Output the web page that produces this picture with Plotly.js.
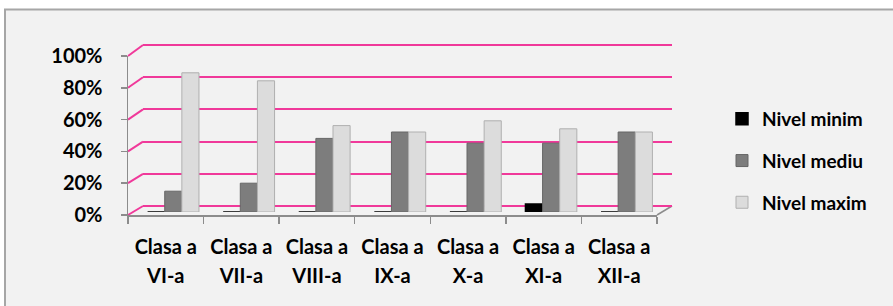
<!DOCTYPE html>
<html>
<head>
<meta charset="utf-8">
<script src="https://cdn.plot.ly/plotly-3.0.1.min.js"></script>
<style>html,body{margin:0;padding:0;background:#fff;}#chart{width:893px;height:306px;}</style>
</head>
<body>
<div id="chart"></div>
<script>
// ---- data ----
const classes = ["VI-a", "VII-a", "VIII-a", "IX-a", "X-a", "XI-a", "XII-a"];
const classPrefix = "Clasa a";
const nivelMinim = [0.00, 0.00, 0.00, 0.00, 0.00, 0.05, 0.00];
const nivelMediu = [0.13, 0.18, 0.46, 0.50, 0.43, 0.43, 0.50];
const nivelMaxim = [0.87, 0.82, 0.54, 0.50, 0.57, 0.52, 0.50];
const seriesNames = ["Nivel minim", "Nivel mediu", "Nivel maxim"];
const yTicks = [0, 0.2, 0.4, 0.6, 0.8, 1.0];

// ---- geometry helpers (pixel -> paper) ----
const W = 893, H = 306;
const px = v => v / W;
const py = v => 1 - v / H;
const PINK = "#f0399a";
const GRAY = "#8c8c8c";
const FONT = {family: "Lato, 'Open Sans', sans-serif", size: 20, color: "#000", weight: "bold"};

// front plane: 0 at 215, 1 at 56 ; back plane: 0 at 206, 1 at 45
const front = {x0: 128, x1: 657, yb: 215, yt: 56};
const back = {x0: 143, x1: 672, yb: 206, yt: 45};
const mid = {x0: 135.5, x1: 664.5, yb: 212, yt: 52};
const pad = 0.01;
const frontY = v => front.yb - v * (front.yb - front.yt);
const backY = v => back.yb - v * (back.yb - back.yt);
const backPPU = back.yb - back.yt;

const traces = [
  {type: "bar", name: seriesNames[0], legendgroup: "g0", x: classes, y: nivelMinim, xaxis: "x2", yaxis: "y2",
   marker: {color: "#000000", line: {color: "#000000", width: 1.5}}, hoverinfo: "skip"},
  {type: "bar", name: seriesNames[1], legendgroup: "g1", x: classes, y: nivelMediu, xaxis: "x2", yaxis: "y2",
   marker: {color: "#7d7d7d", line: {color: "#666666", width: 1}}, hoverinfo: "skip"},
  {type: "bar", name: seriesNames[2], legendgroup: "g2", x: classes, y: nivelMaxim, xaxis: "x2", yaxis: "y2",
   marker: {color: "#dcdcdc", line: {color: "#b0b0b0", width: 1}}, hoverinfo: "skip"},
  // helpers registering categories on the back wall and label axes
  {type: "scatter", mode: "none", x: classes, y: nivelMinim, xaxis: "x", yaxis: "y", showlegend: false, hoverinfo: "skip"},
  {type: "scatter", mode: "none", x: classes, y: nivelMinim, xaxis: "x3", yaxis: "y3", showlegend: false, hoverinfo: "skip"},
  {type: "scatter", mode: "none", x: classes, y: nivelMinim, xaxis: "x4", yaxis: "y3", showlegend: false, hoverinfo: "skip"}
];

const shapes = [
  // outer frame
  {type: "rect", xref: "paper", yref: "paper", x0: px(5), x1: 1.02, y0: -0.02, y1: py(9.5),
   fillcolor: "#f2f2f2", line: {color: "#a6a6a6", width: 2}, layer: "below"},
  // right floor edge
  {type: "line", xref: "paper", yref: "paper", x0: px(front.x1), y0: py(front.yb), x1: px(back.x1), y1: py(back.yb),
   line: {color: GRAY, width: 1.5}, layer: "below"}
];
yTicks.forEach(v => {
  shapes.push({type: "line", xref: "paper", yref: "paper",
    x0: px(front.x0), y0: py(frontY(v)), x1: px(back.x0), y1: py(backY(v)),
    line: {color: PINK, width: 2}, layer: "below"});
});

const layout = {
  width: W, height: H, autosize: false,
  margin: {l: 0, r: 0, t: 0, b: 0, pad: 0},
  paper_bgcolor: "#ffffff",
  plot_bgcolor: "rgba(0,0,0,0)",
  barmode: "group", bargap: 0.32, bargroupgap: 0,
  showlegend: true,
  legend: {x: px(722), y: py(100), xanchor: "left", yanchor: "top",
           font: {family: FONT.family, size: 19, color: "#000", weight: "bold"},
           bgcolor: "rgba(0,0,0,0)", tracegroupgap: 14, traceorder: "grouped"},
  // back wall gridlines
  xaxis: {domain: [px(back.x0), px(back.x1)], type: "category", range: [-0.5, 6.5], showgrid: false,
          showticklabels: false, zeroline: false, showline: false, ticks: "", anchor: "y", fixedrange: true},
  yaxis: {domain: [py(back.yb + pad * backPPU), py(back.yt - pad * backPPU)], range: [-pad, 1 + pad],
          tickmode: "array", tickvals: yTicks, showgrid: true, gridcolor: PINK, gridwidth: 2,
          showticklabels: false, zeroline: false, showline: false, ticks: "", anchor: "x", fixedrange: true},
  // bars
  xaxis2: {domain: [px(mid.x0), px(mid.x1)], type: "category", range: [-0.5, 6.5], showgrid: false,
           showticklabels: false, zeroline: false, showline: false, ticks: "", anchor: "y2", fixedrange: true},
  yaxis2: {domain: [py(mid.yb), py(mid.yt)], range: [0, 1], showgrid: false, showticklabels: false,
           zeroline: false, showline: false, ticks: "", anchor: "x2", fixedrange: true},
  // front axes with labels
  xaxis3: {domain: [px(front.x0), px(front.x1)], type: "category", range: [-0.5, 6.5],
           tickmode: "array", tickvals: classes, ticktext: classes.map(() => classPrefix),
           tickson: "boundaries", ticks: "outside", ticklen: 7, tickcolor: GRAY, tickwidth: 1.5,
           showline: true, linecolor: GRAY, linewidth: 1.5, showgrid: false, zeroline: false,
           tickfont: FONT, ticklabelstandoff: 13, anchor: "y3", fixedrange: true},
  xaxis4: {overlaying: "x3", type: "category", range: [-0.5, 6.5], side: "bottom",
           tickmode: "array", tickvals: classes, ticktext: classes,
           ticks: "", showline: false, showgrid: false, zeroline: false,
           tickfont: FONT, ticklabelstandoff: 47, anchor: "y3", fixedrange: true},
  yaxis3: {domain: [py(front.yb), py(front.yt)], range: [0, 1], tickmode: "array", tickvals: yTicks,
           tickformat: ".0%", ticks: "outside", ticklen: 6, tickcolor: GRAY, tickwidth: 1.5,
           showline: true, linecolor: GRAY, linewidth: 1.5, showgrid: false, zeroline: false,
           tickfont: FONT, ticklabelstandoff: 14, anchor: "x3", fixedrange: true},
  shapes: shapes
};

Plotly.newPlot("chart", traces, layout, {displayModeBar: false, staticPlot: true});
</script>
</body>
</html>
